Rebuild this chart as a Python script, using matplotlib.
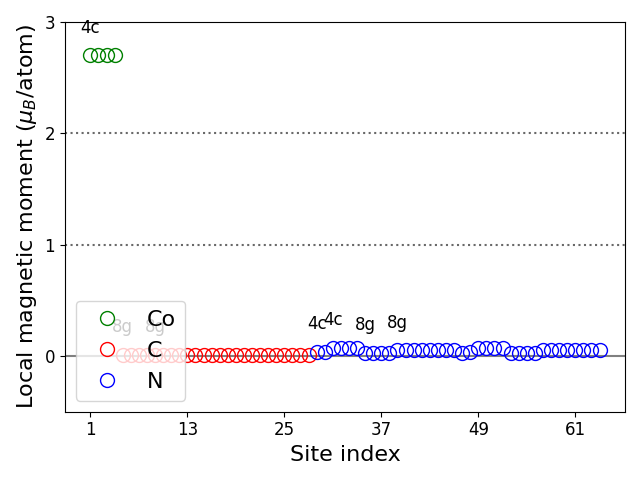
import matplotlib
matplotlib.use('Agg')
import matplotlib.pyplot as plt
import numpy as np

# site indices and local moments per species
co_sites = [1, 2, 3, 4]
co_moment = [2.70, 2.70, 2.70, 2.70]

c_sites = list(range(5, 29))
c_moment = [0.01] * 24

n_sites = list(range(29, 65))
n_moment = [0.04, 0.04, 0.07, 0.07, 0.07, 0.07, 0.03, 0.03, 0.03, 0.03,
            0.05, 0.05, 0.05, 0.05, 0.05, 0.05, 0.05, 0.05, 0.03, 0.04,
            0.07, 0.07, 0.07, 0.07, 0.03, 0.03, 0.03, 0.03,
            0.05, 0.05, 0.05, 0.05, 0.05, 0.05, 0.05, 0.05]

# Wyckoff labels: site, label
label_sites = [1, 5, 9, 29, 31, 35, 39]
label_names = ['4c', '8g', '8g', '4c', '4c', '8g', '8g']

xtick_vals = [1, 13, 25, 37, 49, 61]

fig = plt.figure(figsize=(6.4, 4.8), dpi=100)
ax = plt.subplot()

ax.axhline(0, color='grey', linewidth=1.5, zorder=1)
ax.axhline(1, color='dimgrey', linestyle=':', linewidth=1.5, zorder=1)
ax.axhline(2, color='dimgrey', linestyle=':', linewidth=1.5, zorder=1)

ax.plot(co_sites, co_moment, 'o', mfc='none', mec='green', ms=10, label='Co')
ax.plot(c_sites, c_moment, 'o', mfc='none', mec='red', ms=10, label='C')
ax.plot(n_sites, n_moment, 'o', mfc='none', mec='blue', ms=10, label='N')

all_sites = co_sites + c_sites + n_sites
all_moment = co_moment + c_moment + n_moment
for s, name in zip(label_sites, label_names):
    m = all_moment[all_sites.index(s)]
    ax.text(s, m + 0.25, name, fontsize=12, ha='center', va='center')

ax.set_ylim(-0.5, 3)
ax.set_yticks([0, 1, 2, 3])
ax.set_xticks(xtick_vals)
ax.tick_params(labelsize=12)
ax.set_xlabel('Site index', fontsize=16)
ax.set_ylabel(r'Local magnetic moment ($\mu_B$/atom)', fontsize=16)
ax.legend(loc='lower left', fontsize=16)

plt.tight_layout()
fig.savefig('out.png')
